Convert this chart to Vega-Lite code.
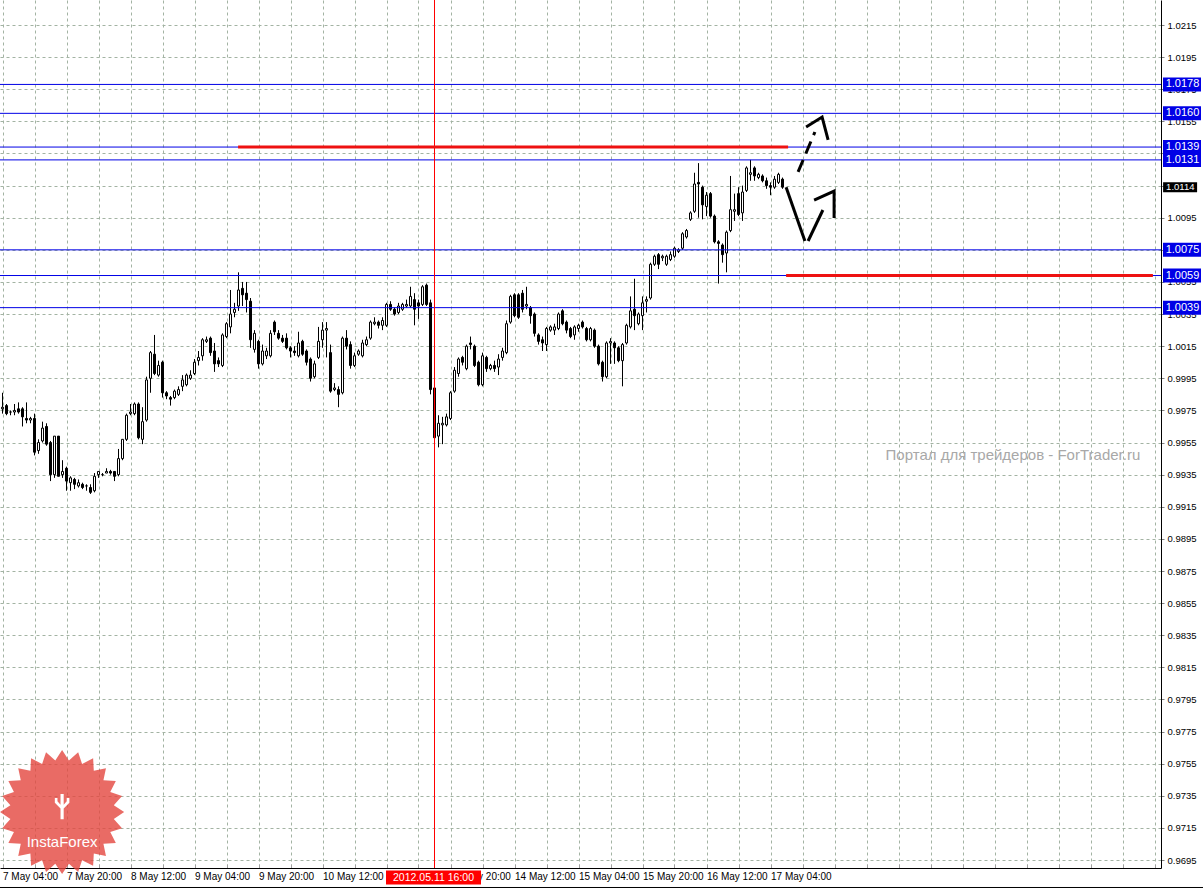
{
"$schema": "https://vega.github.io/schema/vega-lite/v6.json",
"width": 1161, "height": 868,
"autosize": {"type": "none"},
"padding": {"left": 0, "top": 0, "right": 42, "bottom": 22},
"background": "#ffffff",
"config": {"view": {"stroke": null}, "font": "Liberation Sans", "scale": {"continuousPadding": 0}, "axis": {"labelOverlap": false}},
"datasets": {
"candles": [
{"i":0,"o":0.9976,"h":0.9986,"l":0.9973,"c":0.9977},{"i":1,"o":0.9978,"h":0.9979,"l":0.9972,"c":0.9973},{"i":2,"o":0.9974,"h":0.9975,"l":0.9972,"c":0.9974},{"i":3,"o":0.9974,"h":0.9979,"l":0.9972,"c":0.9975},{"i":4,"o":0.9976,"h":0.998,"l":0.9973,"c":0.9974},{"i":5,"o":0.9976,"h":0.9977,"l":0.9965,"c":0.9971},{"i":6,"o":0.997,"h":0.998,"l":0.9967,"c":0.9969},{"i":7,"o":0.9969,"h":0.9971,"l":0.9967,"c":0.997},{"i":8,"o":0.997,"h":0.9973,"l":0.9947,"c":0.9949},{"i":9,"o":0.995,"h":0.9957,"l":0.9948,"c":0.9955},
{"i":10,"o":0.9956,"h":0.9968,"l":0.9955,"c":0.9964},{"i":11,"o":0.9965,"h":0.9967,"l":0.9953,"c":0.9954},{"i":12,"o":0.9955,"h":0.9956,"l":0.9931,"c":0.9935},{"i":13,"o":0.9935,"h":0.9959,"l":0.9933,"c":0.9959},{"i":14,"o":0.9959,"h":0.9959,"l":0.9934,"c":0.9934},{"i":15,"o":0.9935,"h":0.9944,"l":0.9933,"c":0.9937},{"i":16,"o":0.9939,"h":0.994,"l":0.9925,"c":0.9931},{"i":17,"o":0.993,"h":0.9934,"l":0.9925,"c":0.9933},{"i":18,"o":0.9932,"h":0.9933,"l":0.9926,"c":0.9929},{"i":19,"o":0.9928,"h":0.9932,"l":0.9927,"c":0.993},
{"i":20,"o":0.9929,"h":0.993,"l":0.9926,"c":0.9927},{"i":21,"o":0.9928,"h":0.9929,"l":0.9925,"c":0.9928},{"i":22,"o":0.9927,"h":0.9929,"l":0.9923,"c":0.9924},{"i":23,"o":0.9925,"h":0.9936,"l":0.9924,"c":0.9934},{"i":24,"o":0.9935,"h":0.9937,"l":0.9933,"c":0.9937},{"i":25,"o":0.9935,"h":0.9936,"l":0.9934,"c":0.9935},{"i":26,"o":0.9936,"h":0.9939,"l":0.9936,"c":0.9937},{"i":27,"o":0.9937,"h":0.9938,"l":0.9935,"c":0.9936},{"i":28,"o":0.9937,"h":0.9937,"l":0.9931,"c":0.9934},{"i":29,"o":0.9935,"h":0.9951,"l":0.9934,"c":0.9945},
{"i":30,"o":0.9945,"h":0.9957,"l":0.9944,"c":0.9957},{"i":31,"o":0.9957,"h":0.9973,"l":0.9956,"c":0.9972},{"i":32,"o":0.9973,"h":0.9979,"l":0.9972,"c":0.9974},{"i":33,"o":0.9973,"h":0.998,"l":0.9972,"c":0.9979},{"i":34,"o":0.9979,"h":0.998,"l":0.9957,"c":0.9958},{"i":35,"o":0.9957,"h":0.9977,"l":0.9954,"c":0.9968},{"i":36,"o":0.9969,"h":0.9996,"l":0.9968,"c":0.9994},{"i":37,"o":0.9995,"h":1.0012,"l":0.9986,"c":1.0011},{"i":38,"o":1.001,"h":1.0022,"l":0.9997,"c":0.9998},{"i":39,"o":0.9997,"h":1.0006,"l":0.9996,"c":1.0003},
{"i":40,"o":1.0005,"h":1.0006,"l":0.9983,"c":0.9986},{"i":41,"o":0.9986,"h":0.9987,"l":0.9982,"c":0.9984},{"i":42,"o":0.9983,"h":0.9984,"l":0.9978,"c":0.9982},{"i":43,"o":0.9983,"h":0.9988,"l":0.9982,"c":0.9987},{"i":44,"o":0.9985,"h":0.999,"l":0.9984,"c":0.9988},{"i":45,"o":0.999,"h":0.9997,"l":0.9987,"c":0.9994},{"i":46,"o":0.9991,"h":0.9998,"l":0.999,"c":0.9997},{"i":47,"o":0.9995,"h":1.0,"l":0.9994,"c":0.9997},{"i":48,"o":0.9998,"h":1.0007,"l":0.9997,"c":1.0005},{"i":49,"o":1.0006,"h":1.0012,"l":1.0003,"c":1.0008},
{"i":50,"o":1.0009,"h":1.002,"l":1.0006,"c":1.0019},{"i":51,"o":1.0018,"h":1.0021,"l":1.0017,"c":1.0019},{"i":52,"o":1.002,"h":1.0021,"l":1.0009,"c":1.0011},{"i":53,"o":1.0012,"h":1.0017,"l":0.9999,"c":1.0004},{"i":54,"o":1.0006,"h":1.0008,"l":1.0002,"c":1.0004},{"i":55,"o":1.0003,"h":1.0023,"l":1.0002,"c":1.0022},{"i":56,"o":1.0021,"h":1.003,"l":1.002,"c":1.0029},{"i":57,"o":1.0027,"h":1.005,"l":1.0023,"c":1.0035},{"i":58,"o":1.0036,"h":1.0042,"l":1.0033,"c":1.0038},{"i":59,"o":1.004,"h":1.0061,"l":1.0037,"c":1.005},
{"i":60,"o":1.0051,"h":1.0055,"l":1.004,"c":1.0047},{"i":61,"o":1.0048,"h":1.0055,"l":1.0036,"c":1.0044},{"i":62,"o":1.0043,"h":1.0045,"l":1.0014,"c":1.0019},{"i":63,"o":1.0013,"h":1.0025,"l":1.0011,"c":1.0023},{"i":64,"o":1.0018,"h":1.0019,"l":1.0001,"c":1.0004},{"i":65,"o":1.0004,"h":1.0016,"l":1.0003,"c":1.0012},{"i":66,"o":1.0009,"h":1.0014,"l":1.0007,"c":1.0012},{"i":67,"o":1.0009,"h":1.0025,"l":1.0008,"c":1.0023},{"i":68,"o":1.003,"h":1.0031,"l":1.0022,"c":1.0024},{"i":69,"o":1.0023,"h":1.0025,"l":1.0019,"c":1.002},
{"i":70,"o":1.002,"h":1.0022,"l":1.0017,"c":1.0018},{"i":71,"o":1.002,"h":1.0023,"l":1.0013,"c":1.0014},{"i":72,"o":1.0014,"h":1.0015,"l":1.0008,"c":1.0012},{"i":73,"o":1.0012,"h":1.0015,"l":1.0009,"c":1.0011},{"i":74,"o":1.0009,"h":1.0024,"l":1.0008,"c":1.0017},{"i":75,"o":1.0018,"h":1.0019,"l":1.0009,"c":1.001},{"i":76,"o":1.0012,"h":1.0013,"l":1.0003,"c":1.0005},{"i":77,"o":1.0007,"h":1.0008,"l":0.9993,"c":0.9995},{"i":78,"o":0.9996,"h":1.0006,"l":0.9995,"c":1.0004},{"i":79,"o":1.0008,"h":1.0027,"l":1.0007,"c":1.0018},
{"i":80,"o":1.0019,"h":1.003,"l":1.0014,"c":1.0025},{"i":81,"o":1.0025,"h":1.003,"l":1.0008,"c":1.0026},{"i":82,"o":1.0011,"h":1.0016,"l":0.9986,"c":0.9987},{"i":83,"o":0.9988,"h":0.9992,"l":0.9987,"c":0.9989},{"i":84,"o":0.9988,"h":0.999,"l":0.9977,"c":0.9985},{"i":85,"o":0.9986,"h":1.0021,"l":0.9985,"c":1.002},{"i":86,"o":1.002,"h":1.0025,"l":1.0013,"c":1.0015},{"i":87,"o":1.0016,"h":1.0018,"l":1.0001,"c":1.0003},{"i":88,"o":1.0003,"h":1.0011,"l":1.0002,"c":1.0009},{"i":89,"o":1.001,"h":1.0013,"l":1.0009,"c":1.0012},
{"i":90,"o":1.0009,"h":1.0019,"l":1.0008,"c":1.0017},{"i":91,"o":1.0016,"h":1.0021,"l":1.0015,"c":1.0019},{"i":92,"o":1.002,"h":1.0031,"l":1.0019,"c":1.003},{"i":93,"o":1.0029,"h":1.0033,"l":1.0028,"c":1.003},{"i":94,"o":1.003,"h":1.0031,"l":1.0026,"c":1.0028},{"i":95,"o":1.0028,"h":1.0033,"l":1.0025,"c":1.0031},{"i":96,"o":1.0028,"h":1.0042,"l":1.0027,"c":1.0041},{"i":97,"o":1.0041,"h":1.0043,"l":1.0037,"c":1.0038},{"i":98,"o":1.0038,"h":1.0039,"l":1.0034,"c":1.0035},{"i":99,"o":1.0036,"h":1.0042,"l":1.0035,"c":1.004},
{"i":100,"o":1.0038,"h":1.0042,"l":1.0037,"c":1.0041},{"i":101,"o":1.004,"h":1.0044,"l":1.0039,"c":1.0041},{"i":102,"o":1.004,"h":1.0052,"l":1.0039,"c":1.0046},{"i":103,"o":1.0044,"h":1.0048,"l":1.0028,"c":1.0038},{"i":104,"o":1.0042,"h":1.0044,"l":1.0032,"c":1.004},{"i":105,"o":1.0041,"h":1.0053,"l":1.004,"c":1.0052},{"i":106,"o":1.0053,"h":1.0054,"l":1.004,"c":1.0041},{"i":107,"o":1.0042,"h":1.0044,"l":0.9985,"c":0.9988},{"i":108,"o":0.9989,"h":0.999,"l":0.9953,"c":0.9958},{"i":109,"o":0.9959,"h":0.9972,"l":0.9952,"c":0.9967},
{"i":110,"o":0.9966,"h":0.9971,"l":0.9954,"c":0.9967},{"i":111,"o":0.9966,"h":0.9973,"l":0.9965,"c":0.9971},{"i":112,"o":0.997,"h":0.9987,"l":0.9969,"c":0.9986},{"i":113,"o":0.9987,"h":1.0002,"l":0.9986,"c":1.0},{"i":114,"o":0.9998,"h":1.0008,"l":0.9996,"c":1.0007},{"i":115,"o":1.0008,"h":1.0009,"l":1.0003,"c":1.0005},{"i":116,"o":1.0001,"h":1.0016,"l":1.0,"c":1.0015},{"i":117,"o":1.0017,"h":1.0021,"l":1.0013,"c":1.0016},{"i":118,"o":1.0015,"h":1.0016,"l":1.0002,"c":1.0003},{"i":119,"o":1.0005,"h":1.0006,"l":0.999,"c":0.9991},
{"i":120,"o":0.9991,"h":1.0011,"l":0.999,"c":1.0009},{"i":121,"o":1.0008,"h":1.0009,"l":0.9999,"c":1.0001},{"i":122,"o":1.0001,"h":1.0004,"l":1.0,"c":1.0003},{"i":123,"o":1.0003,"h":1.0006,"l":0.9999,"c":1.0001},{"i":124,"o":1.0002,"h":1.001,"l":0.9997,"c":1.0007},{"i":125,"o":1.0008,"h":1.0014,"l":1.0006,"c":1.0012},{"i":126,"o":1.0011,"h":1.0031,"l":1.001,"c":1.0029},{"i":127,"o":1.003,"h":1.0047,"l":1.0029,"c":1.0046},{"i":128,"o":1.0047,"h":1.0048,"l":1.0033,"c":1.0034},{"i":129,"o":1.0047,"h":1.0048,"l":1.0032,"c":1.0033},
{"i":130,"o":1.0048,"h":1.005,"l":1.0036,"c":1.0038},{"i":131,"o":1.004,"h":1.0052,"l":1.0038,"c":1.0041},{"i":132,"o":1.0039,"h":1.004,"l":1.0029,"c":1.0034},{"i":133,"o":1.0035,"h":1.0036,"l":1.0021,"c":1.0023},{"i":134,"o":1.0022,"h":1.0023,"l":1.0016,"c":1.0018},{"i":135,"o":1.0019,"h":1.0021,"l":1.0012,"c":1.0017},{"i":136,"o":1.0016,"h":1.0027,"l":1.0012,"c":1.0026},{"i":137,"o":1.0025,"h":1.0028,"l":1.0024,"c":1.0027},{"i":138,"o":1.0025,"h":1.0029,"l":1.0022,"c":1.0027},{"i":139,"o":1.0026,"h":1.0036,"l":1.0025,"c":1.0035},
{"i":140,"o":1.0037,"h":1.0038,"l":1.0028,"c":1.0029},{"i":141,"o":1.003,"h":1.0031,"l":1.0023,"c":1.0025},{"i":142,"o":1.0026,"h":1.0027,"l":1.002,"c":1.0021},{"i":143,"o":1.0022,"h":1.0028,"l":1.0019,"c":1.0027},{"i":144,"o":1.0026,"h":1.0029,"l":1.0024,"c":1.0028},{"i":145,"o":1.003,"h":1.0031,"l":1.0026,"c":1.0027},{"i":146,"o":1.0026,"h":1.0027,"l":1.0018,"c":1.0019},{"i":147,"o":1.0019,"h":1.0027,"l":1.0018,"c":1.0026},{"i":148,"o":1.0025,"h":1.0026,"l":1.0014,"c":1.0015},{"i":149,"o":1.0015,"h":1.0016,"l":1.0003,"c":1.0004},
{"i":150,"o":1.0005,"h":1.0006,"l":0.9993,"c":0.9996},{"i":151,"o":0.9996,"h":1.0018,"l":0.9995,"c":1.0017},{"i":152,"o":1.0017,"h":1.002,"l":1.0004,"c":1.0018},{"i":153,"o":1.0017,"h":1.0018,"l":1.0004,"c":1.0014},{"i":154,"o":1.0014,"h":1.0015,"l":1.0005,"c":1.0006},{"i":155,"o":1.0006,"h":1.0017,"l":0.999,"c":1.0016},{"i":156,"o":1.0017,"h":1.0029,"l":1.0016,"c":1.0028},{"i":157,"o":1.0027,"h":1.0046,"l":1.0026,"c":1.0037},{"i":158,"o":1.0038,"h":1.0057,"l":1.0025,"c":1.0034},{"i":159,"o":1.0029,"h":1.0036,"l":1.0028,"c":1.0035},
{"i":160,"o":1.0034,"h":1.0046,"l":1.0025,"c":1.0042},{"i":161,"o":1.0043,"h":1.0046,"l":1.0036,"c":1.0044},{"i":162,"o":1.0045,"h":1.0067,"l":1.0044,"c":1.0066},{"i":163,"o":1.0066,"h":1.0072,"l":1.0065,"c":1.0071},{"i":164,"o":1.0072,"h":1.0073,"l":1.0063,"c":1.0066},{"i":165,"o":1.007,"h":1.0072,"l":1.0068,"c":1.0071},{"i":166,"o":1.0066,"h":1.0072,"l":1.0065,"c":1.0071},{"i":167,"o":1.0069,"h":1.0074,"l":1.0068,"c":1.0072},{"i":168,"o":1.0071,"h":1.0077,"l":1.007,"c":1.0076},{"i":169,"o":1.0074,"h":1.0076,"l":1.0073,"c":1.0075},
{"i":170,"o":1.0076,"h":1.0086,"l":1.0075,"c":1.0085},{"i":171,"o":1.0083,"h":1.0088,"l":1.0082,"c":1.0087},{"i":172,"o":1.0094,"h":1.0099,"l":1.0093,"c":1.0098},{"i":173,"o":1.0099,"h":1.0123,"l":1.0098,"c":1.0116},{"i":174,"o":1.0117,"h":1.0129,"l":1.0095,"c":1.0116},{"i":175,"o":1.0114,"h":1.0115,"l":1.0094,"c":1.0103},{"i":176,"o":1.0102,"h":1.0111,"l":1.0096,"c":1.0109},{"i":177,"o":1.011,"h":1.0111,"l":1.0095,"c":1.0096},{"i":178,"o":1.0096,"h":1.0097,"l":1.0079,"c":1.008},{"i":179,"o":1.008,"h":1.0081,"l":1.0054,"c":1.0079},
{"i":180,"o":1.0078,"h":1.0079,"l":1.0067,"c":1.0072},{"i":181,"o":1.0073,"h":1.0087,"l":1.0061,"c":1.0086},{"i":182,"o":1.0087,"h":1.0121,"l":1.0086,"c":1.01},{"i":183,"o":1.0099,"h":1.011,"l":1.0093,"c":1.01},{"i":184,"o":1.011,"h":1.0114,"l":1.0096,"c":1.0097},{"i":185,"o":1.0098,"h":1.0115,"l":1.0093,"c":1.0111},{"i":186,"o":1.0112,"h":1.0127,"l":1.0111,"c":1.0126},{"i":187,"o":1.0122,"h":1.0131,"l":1.0118,"c":1.0123},{"i":188,"o":1.0126,"h":1.0127,"l":1.0118,"c":1.0121},{"i":189,"o":1.012,"h":1.0123,"l":1.0119,"c":1.0122},
{"i":190,"o":1.0121,"h":1.0122,"l":1.0117,"c":1.0118},{"i":191,"o":1.0118,"h":1.012,"l":1.0113,"c":1.0115},{"i":192,"o":1.0115,"h":1.0117,"l":1.0109,"c":1.0114},{"i":193,"o":1.0114,"h":1.0121,"l":1.0113,"c":1.0119},{"i":194,"o":1.0117,"h":1.0123,"l":1.0116,"c":1.0122},{"i":195,"o":1.0119,"h":1.012,"l":1.0113,"c":1.0114}
],
"levels": [
{"p":1.0178,"t":"1.0178"},{"p":1.016,"t":"1.0160"},{"p":1.0139,"t":"1.0139"},{"p":1.0131,"t":"1.0131"},{"p":1.0075,"t":"1.0075"},{"p":1.0059,"t":"1.0059"},{"p":1.0039,"t":"1.0039"}
],
"last": [{"p":1.0114,"t":"1.0114"}],
"redlines": [{"i":58.9,"i2":196.4,"p":1.0139},{"i":195.9,"i2":287.6,"p":1.0059}],
"arrows": [
{"g":"v1","s":"solid","k":0,"i":195.9,"p":1.0114},{"g":"v1","s":"solid","k":1,"i":200.6,"p":1.00805},
{"g":"v2","s":"solid","k":0,"i":201.4,"p":1.00805},{"g":"v2","s":"solid","k":1,"i":205.1,"p":1.00998},
{"g":"h1","s":"solid","k":0,"i":202.9,"p":1.0106},{"g":"h1","s":"solid","k":1,"i":207.9,"p":1.01116},{"g":"h1","s":"solid","k":2,"i":207.9,"p":1.00948},
{"g":"h2","s":"solid","k":0,"i":200.9,"p":1.01515},{"g":"h2","s":"solid","k":1,"i":204.9,"p":1.01577},{"g":"h2","s":"solid","k":2,"i":206.4,"p":1.01434},
{"g":"d1","s":"dash","k":0,"i":198.9,"p":1.01235},{"g":"d1","s":"dash","k":1,"i":203.1,"p":1.01484}
]
},
"layer": [
{
"data": {"name": "candles"},
"mark": {"type": "rule", "color": "#000000", "strokeWidth": 1},
"encoding": {
"x": {"field": "i", "type": "quantitative", "title": null,
"scale": {"domain": [-0.625, 289.625], "nice": false, "zero": false, "padding": 0},
"axis": {"orient": "bottom", "title": null, "tickCount": 200,
"values": [0,8,16,24,32,40,48,56,64,72,80,88,96,104,112,120,128,136,144,152,160,168,176,184,192,200,208,216,224,232,240,248,256,264,272,280,288],
"grid": true, "gridColor": "#a3b3a3", "gridDash": [3,3], "gridWidth": 1,
"domain": true, "domainColor": "#000000", "domainWidth": 1,
"ticks": true, "tickSize": -4, "tickColor": "#a0a0a0", "tickWidth": 1,
"labelPadding": 7, "labelAlign": "left", "labelBaseline": "top",
"labelFont": "Liberation Sans", "labelFontSize": 10, "labelColor": "#000000",
"labelFlush": false, "labelOverlap": false, "labelBound": false,
"labelExpr": "(datum.value % 16 == 0 && datum.value <= 192) ? ['7 May 04:00','7 May 20:00','8 May 12:00','9 May 04:00','9 May 20:00','10 May 12:00','11 May 04:00','11 May 20:00','14 May 12:00','15 May 04:00','15 May 20:00','16 May 12:00','17 May 04:00'][datum.value / 16] : ''"}},
"y": {"field": "l", "type": "quantitative", "title": null,
"scale": {"domain": [0.969007, 1.023057], "nice": false, "zero": false, "padding": 0},
"axis": {"orient": "right", "title": null, "tickCount": 200,
"values": [0.9695,0.9715,0.9735,0.9755,0.9775,0.9795,0.9815,0.9835,0.9855,0.9875,0.9895,0.9915,0.9935,0.9955,0.9975,0.9995,1.0015,1.0035,1.0055,1.0075,1.0095,1.0115,1.0135,1.0155,1.0175,1.0195,1.0215],
"format": ".4f",
"grid": true, "gridColor": "#a3b3a3", "gridDash": [3,3], "gridWidth": 1,
"domain": true, "domainColor": "#000000", "domainWidth": 1,
"ticks": true, "tickSize": 3, "tickColor": "#808080",
"labelPadding": 3, "labelAlign": "left", "labelBaseline": "middle",
"labelFont": "Liberation Sans", "labelFontSize": 9.5, "labelColor": "#000000",
"labelFlush": false, "labelOverlap": false, "labelBound": false}},
"y2": {"field": "h"}
}
},
{
"data": {"name": "candles"},
"mark": {"type": "bar", "orient": "vertical", "width": 2, "stroke": "#000000", "strokeWidth": 1},
"encoding": {
"x": {"field": "i", "type": "quantitative", "title": null},
"y": {"field": "o", "type": "quantitative", "title": null},
"y2": {"field": "c"},
"fill": {"condition": {"test": "datum.c >= datum.o", "value": "#ffffff"}, "value": "#000000"}
}
},
{
"data": {"name": "levels"},
"mark": {"type": "rule", "color": "#0000e6", "strokeWidth": 1},
"encoding": {"y": {"field": "p", "type": "quantitative", "title": null}}
},
{
"data": {"values": [{"i": 108}]},
"mark": {"type": "rule", "color": "#ff0000", "strokeWidth": 1},
"encoding": {"x": {"field": "i", "type": "quantitative", "title": null}}
},
{
"data": {"name": "redlines"},
"mark": {"type": "rule", "color": "#ee1111", "strokeWidth": 3},
"encoding": {
"x": {"field": "i", "type": "quantitative", "title": null},
"x2": {"field": "i2"},
"y": {"field": "p", "type": "quantitative", "title": null}
}
},
{
"data": {"name": "arrows"},
"transform": [{"filter": "datum.s == 'solid'"}],
"mark": {"type": "line", "color": "#000000", "strokeWidth": 3, "strokeCap": "butt", "strokeJoin": "miter"},
"encoding": {
"x": {"field": "i", "type": "quantitative", "title": null},
"y": {"field": "p", "type": "quantitative", "title": null},
"detail": {"field": "g"},
"order": {"field": "k"}
}
},
{
"data": {"name": "arrows"},
"transform": [{"filter": "datum.s == 'dash'"}],
"mark": {"type": "line", "color": "#000000", "strokeWidth": 3, "strokeDash": [13, 7], "strokeCap": "butt"},
"encoding": {
"x": {"field": "i", "type": "quantitative", "title": null},
"y": {"field": "p", "type": "quantitative", "title": null},
"detail": {"field": "g"},
"order": {"field": "k"}
}
},
{
"data": {"values": [{"t": "Портал для трейдеров - ForTrader.ru"}]},
"mark": {"type": "text", "align": "center", "baseline": "middle", "font": "Liberation Sans", "fontSize": 15, "color": "#a8a8a8"},
"encoding": {
"x": {"datum": 252.6, "type": "quantitative"},
"y": {"datum": 0.99472, "type": "quantitative"},
"text": {"field": "t"}
}
},
{
"data": {"values": [{"t": "InstaForex"}]},
"mark": {"type": "point", "shape": "M1,0L0.833,0.11L0.966,0.259L0.776,0.322L0.866,0.5L0.666,0.511L0.707,0.707L0.511,0.666L0.5,0.866L0.322,0.776L0.259,0.966L0.11,0.833L0,1L-0.11,0.833L-0.259,0.966L-0.322,0.776L-0.5,0.866L-0.511,0.666L-0.707,0.707L-0.666,0.511L-0.866,0.5L-0.776,0.322L-0.966,0.259L-0.833,0.11L-1,0L-0.833,-0.11L-0.966,-0.259L-0.776,-0.322L-0.866,-0.5L-0.666,-0.511L-0.707,-0.707L-0.511,-0.666L-0.5,-0.866L-0.322,-0.776L-0.259,-0.966L-0.11,-0.833L0,-1L0.11,-0.833L0.259,-0.966L0.322,-0.776L0.5,-0.866L0.511,-0.666L0.707,-0.707L0.666,-0.511L0.866,-0.5L0.776,-0.322L0.966,-0.259L0.833,-0.11Z", "size": 15400, "filled": true, "color": "#e4463f", "opacity": 0.8, "strokeWidth": 0},
"encoding": {
"x": {"datum": 14.9, "type": "quantitative"},
"y": {"datum": 0.97249, "type": "quantitative"}
}
},
{
"data": {"values": [{"t": "InstaForex"}]},
"mark": {"type": "point", "shape": "M-0.12,1L0.12,1L0.12,0.2L0.55,-0.25L0.55,-0.6L0.35,-0.6L0.35,-0.35L0.12,-0.1L0.12,-0.9L-0.12,-0.9L-0.12,-0.1L-0.35,-0.35L-0.35,-0.6L-0.55,-0.6L-0.55,-0.25L-0.12,0.2Z", "size": 700, "filled": true, "color": "#ffffff", "opacity": 1, "strokeWidth": 0},
"encoding": {
"x": {"datum": 14.9, "type": "quantitative"},
"y": {"datum": 0.97287, "type": "quantitative"}
}
},
{
"data": {"values": [{"t": "InstaForex"}]},
"mark": {"type": "text", "align": "center", "baseline": "middle", "font": "Liberation Sans", "fontSize": 15, "color": "#ffffff"},
"encoding": {
"x": {"datum": 14.9, "type": "quantitative"},
"y": {"datum": 0.97062, "type": "quantitative"},
"text": {"field": "t"}
}
},
{
"data": {"name": "levels"},
"mark": {"type": "tick", "orient": "horizontal", "size": 38, "thickness": 14, "color": "#0000e6", "opacity": 1},
"encoding": {
"x": {"datum": 294.875, "type": "quantitative"},
"y": {"field": "p", "type": "quantitative", "title": null}
}
},
{
"data": {"name": "levels"},
"mark": {"type": "text", "align": "left", "baseline": "middle", "font": "Liberation Sans", "fontSize": 11, "color": "#ffffff"},
"encoding": {
"x": {"datum": 290.8, "type": "quantitative"},
"y": {"field": "p", "type": "quantitative", "title": null},
"text": {"field": "t"}
}
},
{
"data": {"name": "last"},
"mark": {"type": "tick", "orient": "horizontal", "size": 34, "thickness": 10, "color": "#000000", "opacity": 1},
"encoding": {
"x": {"datum": 294.4, "type": "quantitative"},
"y": {"field": "p", "type": "quantitative", "title": null}
}
},
{
"data": {"name": "last"},
"mark": {"type": "text", "align": "left", "baseline": "middle", "font": "Liberation Sans", "fontSize": 9.5, "color": "#ffffff"},
"encoding": {
"x": {"datum": 290.9, "type": "quantitative"},
"y": {"field": "p", "type": "quantitative", "title": null},
"text": {"field": "t"}
}
},
{
"data": {"values": [{"t": "2012.05.11 16:00"}]},
"mark": {"type": "tick", "orient": "horizontal", "size": 95, "thickness": 14, "color": "#ff0000", "opacity": 1},
"encoding": {
"x": {"datum": 107.75, "type": "quantitative"},
"y": {"datum": 0.968415, "type": "quantitative"}
}
},
{
"data": {"values": [{"t": "2012.05.11 16:00"}]},
"mark": {"type": "text", "align": "center", "baseline": "middle", "font": "Liberation Sans", "fontSize": 10.5, "color": "#ffffff"},
"encoding": {
"x": {"datum": 107.75, "type": "quantitative"},
"y": {"datum": 0.968415, "type": "quantitative"},
"text": {"field": "t"}
}
},
{
"data": {"values": [{}]},
"mark": {"type": "rule", "color": "#000000", "strokeWidth": 1},
"encoding": {
"x": {"datum": -0.625, "type": "quantitative"},
"x2": {"datum": 300.2},
"y": {"datum": 0.967793, "type": "quantitative"}
}
}
]
}
